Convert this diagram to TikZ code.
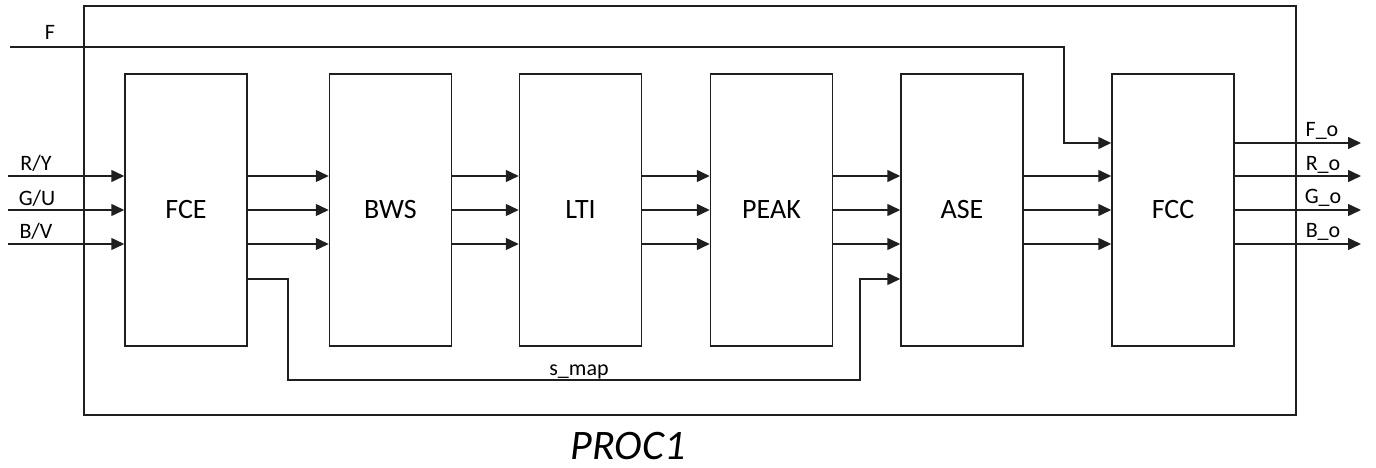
\documentclass[tikz,border=0pt]{standalone}
\usepackage{fontspec}
\setmainfont{Carlito}
\usetikzlibrary{arrows.meta}
\begin{document}
\begin{tikzpicture}[x=1pt,y=-1pt,
  ln/.style={draw=black!88,line width=1.5pt},
  arr/.style={ln,-{Triangle[length=13pt,width=12pt]}},
  blk/.style={ln,fill=white,rectangle,minimum width=122pt,minimum height=272pt,inner sep=0pt,font=\fontsize{28}{30}\selectfont},
  lbl/.style={inner sep=0pt,anchor=base,font=\fontsize{22}{24}\selectfont}]
\useasboundingbox (0,0) rectangle (1376,468);
\node[ln,rectangle,minimum width=1212pt,minimum height=409pt,inner sep=0pt] (outer) at (690,210.5) {};
\node[inner sep=0pt,anchor=base,font=\fontsize{42}{44}\selectfont\itshape] (title) at (628,459) {PROC1};
\coordinate (rF) at (0,143);
\coordinate (r1) at (0,176);
\coordinate (r2) at (0,210);
\coordinate (r3) at (0,244);
\coordinate (rS) at (0,279);
\node[blk] (fce) at (186,210) {FCE};
\node[blk] (bws) at (390.5,210) {BWS};
\node[blk] (lti) at (580.5,210) {LTI};
\node[blk] (peak) at (771.5,210) {PEAK};
\node[blk] (ase) at (962,210) {ASE};
\node[blk] (fcc) at (1173,210) {FCC};
% inputs
\coordinate (inF) at (10,47);
\coordinate (in1) at (8,176);
\coordinate (in2) at (8,210);
\coordinate (in3) at (8,244);
\draw[arr] (inF) -- (1064,47) |- (fcc.west |- rF);
\draw[arr] (in1) -- (fce.west |- r1);
\draw[arr] (in2) -- (fce.west |- r2);
\draw[arr] (in3) -- (fce.west |- r3);
\node[lbl] (lF) at (50,40) {F};
\node[lbl] (lR) at (36,171) {R/Y};
\node[lbl] (lG) at (37,205) {G/U};
\node[lbl] (lB) at (36,238) {B/V};
% chain
\foreach \a/\b in {fce/bws,bws/lti,lti/peak,peak/ase,ase/fcc}{
  \draw[arr] (\a.east |- r1) -- (\b.west |- r1);
  \draw[arr] (\a.east |- r2) -- (\b.west |- r2);
  \draw[arr] (\a.east |- r3) -- (\b.west |- r3);
}
% s_map
\draw[arr] (fce.east |- rS) -| (288,380) -| (860,279) -- (ase.west |- rS);
\node[lbl] (lS) at (579,375) {s\_map};
% outputs
\coordinate (oF) at (1361,143);
\coordinate (o1) at (1361,176);
\coordinate (o2) at (1361,210);
\coordinate (o3) at (1361,244);
\draw[arr] (fcc.east |- rF) -- (oF);
\draw[arr] (fcc.east |- r1) -- (o1);
\draw[arr] (fcc.east |- r2) -- (o2);
\draw[arr] (fcc.east |- r3) -- (o3);
\node[lbl] (lFo) at (1322,136) {F\_o};
\node[lbl] (lRo) at (1323,170) {R\_o};
\node[lbl] (lGo) at (1323,203) {G\_o};
\node[lbl] (lBo) at (1323,237) {B\_o};
\end{tikzpicture}
\end{document}
